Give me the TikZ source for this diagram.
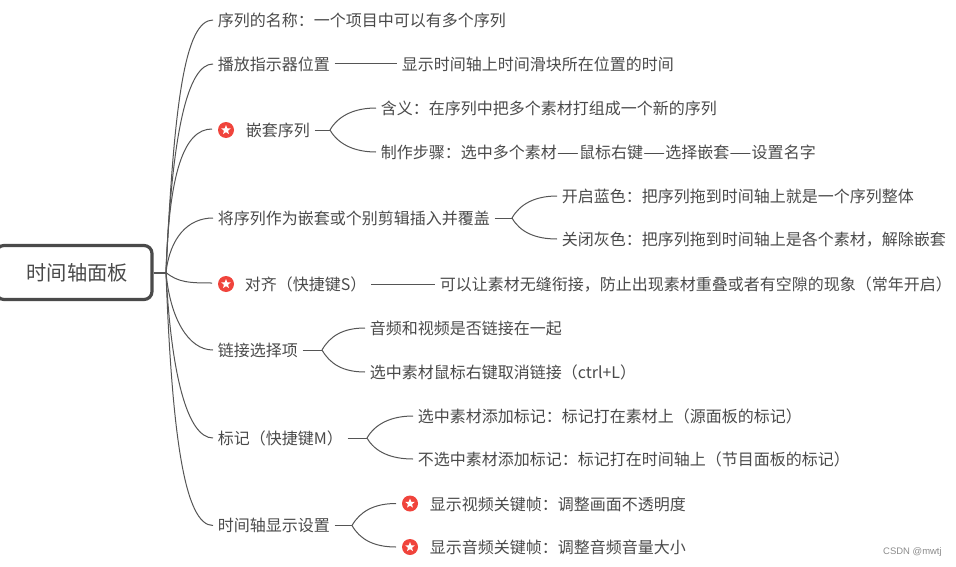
\documentclass[tikz,border=0pt]{standalone}
\usepackage{fontspec}
\usetikzlibrary{shapes.geometric}
\setmainfont{Noto Sans CJK SC}
\newfontfamily\wmfont{Liberation Sans}
\definecolor{txt}{HTML}{4A4A4A}
\definecolor{ln}{HTML}{555555}
\definecolor{rd}{HTML}{F0443C}
\newcommand{\longdash}{\scalebox{1.56}[1]{—}}
\tikzset{
  lab/.style={anchor=west,inner xsep=3.4pt,inner ysep=0pt,text=txt,font=\fontsize{12pt}{14pt}\selectfont,text height=11.5pt,text depth=2pt},
  rootbox/.style={draw=txt,line width=2.4pt,rounded corners=6pt,fill=white,minimum width=117pt,minimum height=40.5pt,inner sep=0pt,text=txt,font=\fontsize{15.2pt}{18pt}\selectfont},
  conn/.style={draw=ln,line width=0.75pt},
  badge/.style={circle,fill=rd,minimum size=12pt,inner sep=0pt},
  wstar/.style={star,star points=5,star point ratio=2.3,fill=white,minimum size=7.5pt,inner sep=0pt},
}
\begin{document}
\begin{tikzpicture}[x=0.75pt,y=-0.75pt]
\useasboundingbox (0,0) rectangle (956,567);
% root
\node[rootbox] (root) at (74,272.5) {\hspace*{5pt}时间轴面板};
\coordinate (rj) at (166,272.5);
% level 1
\node[lab] (a1) at (213,20) {序列的名称：一个项目中可以有多个序列};
\node[lab] (a2) at (213,64) {播放指示器位置};
\node[badge] (s3) at (226,130) {};
\node[wstar] (s3s) at (226,130) {};
\coordinate (a3w) at (212,129);
\node[lab] (a3) at (241,130) {嵌套序列};
\node[lab] (a4) at (213,218) {将序列作为嵌套或个别剪辑插入并覆盖};
\node[badge] (s5) at (226,284) {};
\node[wstar] (s5s) at (226,284) {};
\coordinate (a5w) at (212,283);
\node[lab] (a5) at (240,284) {对齐（快捷键S）};
\node[lab] (a6) at (213,350) {链接选择项};
\node[lab] (a7) at (213,438) {标记（快捷键M）};
\node[lab] (a8) at (213,525.5) {时间轴显示设置};
% level 2
\node[lab] (b2) at (397,64) {显示时间轴上时间滑块所在位置的时间};
\node[lab] (b31) at (376,108) {含义：在序列中把多个素材打组成一个新的序列};
\node[lab] (b32) at (376,152) {制作步骤：选中多个素材\longdash 鼠标右键\longdash 选择嵌套\longdash 设置名字};
\node[lab] (b41) at (557,196) {开启蓝色：把序列拖到时间轴上就是一个序列整体};
\node[lab] (b42) at (557,239) {关闭灰色：把序列拖到时间轴上是各个素材，解除嵌套};
\node[lab] (b5) at (435,284) {可以让素材无缝衔接，防止出现素材重叠或者有空隙的现象（常年开启）};
\node[lab] (b61) at (365,328) {音频和视频是否链接在一起};
\node[lab] (b62) at (365,372) {选中素材鼠标右键取消链接（ctrl+L）};
\node[lab] (b71) at (413,416) {选中素材添加标记：标记打在素材上（源面板的标记）};
\node[lab] (b72) at (413,459) {不选中素材添加标记：标记打在时间轴上（节目面板的标记）};
\node[badge] (s81) at (410,503.5) {};
\node[wstar] (s81s) at (410,503.5) {};
\coordinate (b81w) at (396,503.5);
\node[badge] (s82) at (410,547) {};
\node[wstar] (s82s) at (410,547) {};
\coordinate (b82w) at (396,547);
\node[lab] (b81) at (425,504) {显示视频关键帧：调整画面不透明度};
\node[lab] (b82) at (425,547) {显示音频关键帧：调整音频音量大小};
\node[anchor=east,inner sep=0pt,text=black!45,font=\wmfont\fontsize{7.1pt}{9pt}\selectfont] (wm) at (942,552.5) {CSDN @mwtj};
% fork points
\coordinate (f3) at (330,130);
\coordinate (f4) at (512,218);
\coordinate (f6) at (322,350);
\coordinate (f7) at (367,438);
\coordinate (f8) at (352,525.5);
% root connectors
\draw[conn,line width=1.5pt] (root.east) -- (rj);
\draw[conn] (rj) .. controls +(8,-170) and +(-28,0) .. (a1.west);
\draw[conn] (rj) .. controls +(6,-142) and +(-25,0) .. (a2.west);
\draw[conn] (rj) .. controls +(3,-100) and +(-28,0) .. (a3w);
\draw[conn] (rj) .. controls +(4,-35) and +(-25,0) .. (a4.west);
\draw[conn] (rj) .. controls +(12,10) and +(-22,0) .. (a5w);
\draw[conn] (rj) .. controls +(4,45) and +(-25,0) .. (a6.west);
\draw[conn] (rj) .. controls +(5,100) and +(-26,0) .. (a7.west);
\draw[conn] (rj) .. controls +(6,165) and +(-28,0) .. (a8.west);
% second level connectors
\draw[conn] (a2.east) -- (b2.west);
\draw[conn] (a5.east) -- (b5.west);
\draw[conn] (a3.east) -- (f3);
\draw[conn] (f3) .. controls +(8,-14) and +(-22,0) .. (b31.west);
\draw[conn] (f3) .. controls +(8,14) and +(-22,0) .. (b32.west);
\draw[conn] (a4.east) -- (f4);
\draw[conn] (f4) .. controls +(8,-14) and +(-22,0) .. (b41.west);
\draw[conn] (f4) .. controls +(8,14) and +(-22,0) .. (b42.west);
\draw[conn] (a6.east) -- (f6);
\draw[conn] (f6) .. controls +(8,-14) and +(-22,0) .. (b61.west);
\draw[conn] (f6) .. controls +(8,14) and +(-22,0) .. (b62.west);
\draw[conn] (a7.east) -- (f7);
\draw[conn] (f7) .. controls +(8,-14) and +(-22,0) .. (b71.west);
\draw[conn] (f7) .. controls +(8,14) and +(-22,0) .. (b72.west);
\draw[conn] (a8.east) -- (f8);
\draw[conn] (f8) .. controls +(8,-14) and +(-22,0) .. (b81w);
\draw[conn] (f8) .. controls +(8,14) and +(-22,0) .. (b82w);
\end{tikzpicture}
\end{document}
